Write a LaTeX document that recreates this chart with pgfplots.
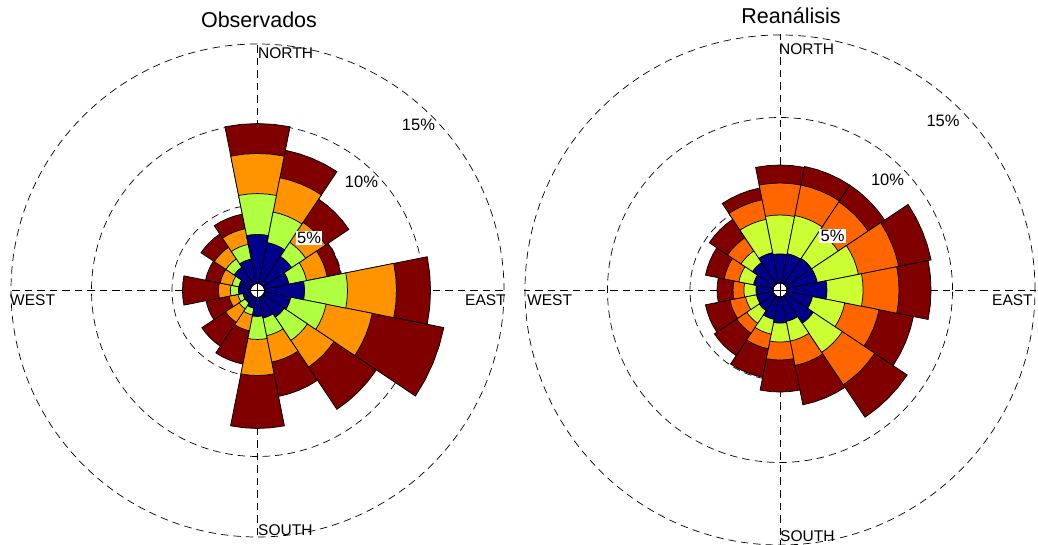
\documentclass[border=0pt]{standalone}
\usepackage{pgfplots}
\pgfplotsset{compat=1.18}
\usepackage{pgfplotstable}
\usepgfplotslibrary{polar}
\usepackage{fontspec}
\setmainfont{Liberation Sans}

\definecolor{obs1}{RGB}{0,0,140}
\definecolor{obs2}{RGB}{176,255,64}
\definecolor{obs3}{RGB}{255,148,0}
\definecolor{obs4}{RGB}{128,0,0}
\definecolor{rea1}{RGB}{0,0,140}
\definecolor{rea2}{RGB}{204,255,51}
\definecolor{rea3}{RGB}{255,102,0}
\definecolor{rea4}{RGB}{128,0,0}

% cumulative frequency (%) at the outer edge of each speed band
% a = direction (degrees, counter-clockwise from East)
\pgfplotstableread{
a      b1    b2    b3    b4
90     3.17  5.71  8.20  10.06
67.5   2.73  4.66  6.83  8.57
45     2.24  3.29  4.78  6.52
22.5   1.68  2.80  4.10  4.97
0      2.61  5.28  8.32  10.44
337.5  1.80  4.04  6.96  11.49
315    1.68  3.42  5.40  8.57
292.5  1.43  2.55  4.22  6.40
270    1.30  2.73  4.97  8.26
247.5  0.81  1.24  2.24  4.35
225    0.62  1.06  2.07  3.85
202.5  0.62  0.93  1.49  2.95
180    0.87  1.37  2.11  4.35
157.5  0.87  1.30  2.05  2.98
135    1.43  2.05  2.92  3.91
112.5  1.68  2.61  3.60  4.53
}\obsdata

\pgfplotstableread{
a      b1    b2    b3    b4
90     1.73  4.09  6.03  7.12
67.5   1.79  4.15  6.03  7.18
45     1.85  3.79  5.97  7.18
22.5   1.85  4.39  6.88  8.88
0      2.39  4.58  6.76  8.70
337.5  1.55  3.55  5.67  7.79
315    1.97  4.09  6.45  8.82
292.5  1.48  2.70  4.21  6.64
270    1.55  2.70  3.79  5.73
247.5  1.36  2.27  3.18  4.94
225    1.06  1.97  2.70  4.33
202.5  1.00  1.67  2.64  4.15
180    1.00  1.73  2.39  3.36
157.5  1.18  2.09  3.00  4.15
135    1.55  2.39  3.36  4.70
112.5  1.85  3.91  5.12  5.85
}\reandata

% #1 table, #2 colour prefix, #3 radial offset of 0 %, #4 radius of the central hole
\newcommand\rosewedges[4]{%
  \pgfplotstablegetrowsof{#1}%
  \pgfmathtruncatemacro\nrows{\pgfplotsretval-1}%
  \pgfplotsforeachungrouped \k in {4,3,2,1}{%
    \pgfplotsforeachungrouped \i in {0,...,\nrows}{%
      \pgfplotstablegetelem{\i}{a}\of{#1}\let\ang\pgfplotsretval
      \edef\next{\noexpand\pgfplotstablegetelem{\i}{b\k}\noexpand\of{\noexpand#1}}\next
      \let\val\pgfplotsretval
      \pgfmathsetmacro\rr{\val+#3}%
      \pgfmathsetmacro\aA{\ang-11.25}%
      \pgfmathsetmacro\aB{\ang-5.625}%
      \pgfmathsetmacro\aC{\ang+5.625}%
      \pgfmathsetmacro\aD{\ang+11.25}%
      \edef\temp{\noexpand\addplot[draw=black,line width=0.75pt,fill=#2\k] coordinates {(\aA,#4) (\aA,\rr) (\aB,\rr) (\ang,\rr) (\aC,\rr) (\aD,\rr) (\aD,#4) (\aC,#4) (\ang,#4) (\aB,#4)} -- cycle;}%
      \temp
    }%
  }%
}

\pgfplotsset{
  rosestyle/.style={
    anchor=origin, scale only axis,
    ymin=0,
    xtick={0,90,180,270},
    xticklabels={}, yticklabels={},
    grid=major,
    major grid style={black, dash pattern=on 7.5pt off 5pt, line width=0.7pt},
    axis line style={draw=none},
    major tick length=0pt,
  }
}

\begin{document}
\begin{tikzpicture}[x=1pt,y=1pt]
\path[use as bounding box] (0,0) rectangle (1038,545);

\begin{polaraxis}[rosestyle,
  at={(257.5pt,254.5pt)},
  width=495.9pt, height=495.9pt,
  ymax=15.4,
  ytick={5.31,10.31,15.31},
]
\rosewedges{\obsdata}{obs}{0.31}{0.44}
\end{polaraxis}

\begin{polaraxis}[rosestyle,
  at={(780pt,255pt)},
  width=511.5pt, height=511.5pt,
  ymax=15.5,
  ytick={5.455,10.455,15.455},
]
\rosewedges{\reandata}{rea}{0.455}{0.43}
\end{polaraxis}

% titles
\node[anchor=base, font=\fontsize{21.5}{24}\selectfont] at (259,517) {Observados};
\node[anchor=base, font=\fontsize{21.5}{24}\selectfont] at (791,521) {Reanálisis};

% compass labels
\begin{scope}[every node/.style={anchor=base west, inner sep=0pt, font=\fontsize{15.5}{17}\selectfont}]
\node at (258,486) {NORTH};
\node at (258,9) {SOUTH};
\node at (10,239) {WEST};
\node at (465,239) {EAST};
\node at (779,490) {NORTH};
\node at (780,3) {SOUTH};
\node at (527,239) {WEST};
\node at (992,239) {EAST};
\end{scope}

% ring labels
\begin{scope}[every node/.style={font=\fontsize{16.5}{18}\selectfont, inner sep=1.5pt}]
\node[fill=white] at (309,307) {5\%};
\node at (361.5,363) {10\%};
\node at (418.5,420) {15\%};
\node[fill=white] at (832.5,309) {5\%};
\node at (887.5,365) {10\%};
\node at (943,424) {15\%};
\end{scope}
\end{tikzpicture}
\end{document}
